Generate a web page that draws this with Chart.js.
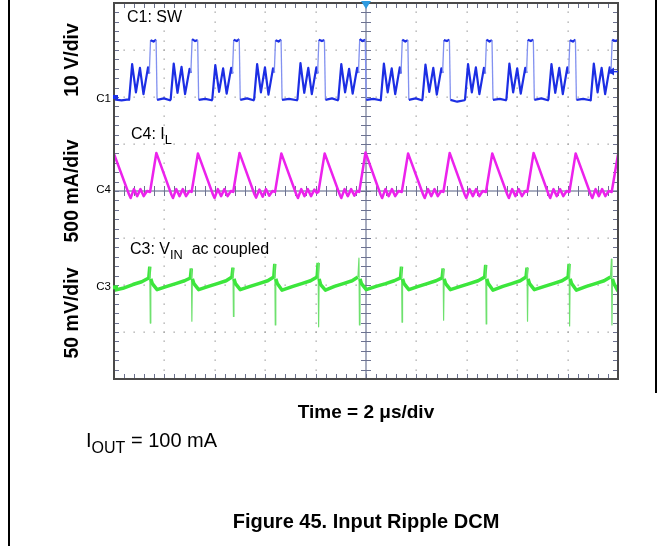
<!DOCTYPE html>
<html>
<head>
<meta charset="utf-8">
<script src="https://cdn.jsdelivr.net/npm/chart.js@4.4.1/dist/chart.umd.min.js"></script>
<style>
  body { margin: 0; background: #fff; font-family: "Liberation Sans", Arial, sans-serif; }
  #wrap { position: relative; width: 671px; height: 546px; overflow: hidden; }
  canvas { position: absolute; left: 0; top: 0; }
  .t { position: absolute; white-space: nowrap; color: #000; line-height: 1; }
  .ylab { font-weight: bold; font-size: 19.5px; transform: translate(-50%, -50%) rotate(-90deg); }
  .ch { font-size: 11.5px; text-align: right; width: 30px; }
  .lab { font-size: 16px; }
  sub { font-size: 0.8em; vertical-align: -0.4em; line-height: 0; }
  .rule { position: absolute; background: #000; width: 1.5px; }
</style>
</head>
<body>
<div id="wrap">
  <canvas id="canvas" width="671" height="546"></canvas>
  <div class="rule" style="left:8px; top:0; height:546px;"></div>
  <div class="rule" style="left:655px; top:0; height:393px;"></div>

  <div class="t ylab" style="left:72px; top:60px;">10 V/div</div>
  <div class="t ylab" style="left:72px; top:191px;">500 mA/div</div>
  <div class="t ylab" style="left:72px; top:313px;">50 mV/div</div>

  <div class="t ch" style="left:81px; top:93px;">C1</div>
  <div class="t ch" style="left:81px; top:184px;">C4</div>
  <div class="t ch" style="left:81px; top:281px;">C3</div>

  <div class="t lab" style="left:127px; top:9px;">C1: SW</div>
  <div class="t lab" style="left:131px; top:126px;">C4: I<sub>L</sub></div>
  <div class="t lab" style="left:130px; top:241px;">C3: V<sub>IN</sub>&nbsp; ac coupled</div>

  <div class="t" style="left:366px; top:402px; transform:translateX(-50%); font-weight:bold; font-size:19px;">Time = 2 &mu;s/div</div>
  <div class="t" style="left:86px; top:430px; font-size:20px;">I<sub>OUT</sub> = 100 mA</div>
  <div class="t" style="left:366px; top:511px; transform:translateX(-50%); font-weight:bold; font-size:20px;">Figure 45. Input Ripple DCM</div>
</div>
<script>
// time in us, SW in volts
const swTrace = [
  [0, -0.5], [0.3, -0.7], [0.58, -0.5],
  [0.60, -0.6], [0.72, 7.0], [0.87, 1.0], [1.03, 6.2], [1.17, 0.6], [1.35, 6.3], [1.40, 5.0], [1.45, 12.1], [1.57, 11.8], [1.67, 12.2], [1.71, -0.6], [1.98, -0.3], [2.22, -0.7],
  [2.25, -0.5], [2.37, 7.1], [2.52, 0.9], [2.68, 6.4], [2.82, 0.6], [3.00, 6.0], [3.05, 5.1], [3.10, 12.3], [3.22, 11.9], [3.32, 12.1], [3.36, -0.6], [3.62, -0.4], [3.88, -0.7],
  [3.90, -0.5], [4.02, 6.8], [4.17, 1.1], [4.33, 6.1], [4.47, 0.7], [4.65, 6.2], [4.70, 5.0], [4.75, 12.2], [4.87, 11.9], [4.97, 12.3], [5.01, -0.6], [5.28, -0.3], [5.54, -0.7],
  [5.56, -0.5], [5.68, 7.0], [5.83, 1.0], [5.99, 6.3], [6.13, 0.5], [6.31, 6.1], [6.36, 5.2], [6.41, 12.1], [6.53, 11.8], [6.63, 12.2], [6.67, -0.6], [6.95, -0.4], [7.26, -0.7],
  [7.28, -0.5], [7.40, 7.2], [7.55, 0.9], [7.71, 6.2], [7.85, 0.6], [8.03, 6.3], [8.08, 5.0], [8.13, 12.2], [8.25, 11.9], [8.35, 12.1], [8.39, -0.6], [8.65, -0.3], [8.88, -0.7],
  [8.90, -0.5], [9.02, 7.0], [9.17, 1.0], [9.33, 6.0], [9.47, 0.7], [9.65, 6.2], [9.70, 5.1], [9.75, 12.3], [9.87, 11.9], [9.97, 12.2], [10.01, -0.6], [10.30, -0.4], [10.57, -0.7],
  [10.59, -0.5], [10.71, 7.1], [10.86, 1.0], [11.02, 6.1], [11.16, 0.6], [11.34, 6.3], [11.39, 5.0], [11.44, 12.2], [11.56, 11.8], [11.66, 12.1], [11.70, -0.6], [11.97, -0.3], [12.22, -0.7],
  [12.24, -0.5], [12.36, 6.9], [12.51, 1.1], [12.67, 6.2], [12.81, 0.5], [12.99, 6.1], [13.04, 5.1], [13.09, 12.1], [13.21, 11.9], [13.31, 12.2], [13.35, -0.6], [13.62, -1.0], [13.91, -0.7],
  [13.93, -0.5], [14.05, 7.0], [14.20, 1.0], [14.36, 6.3], [14.50, 0.6], [14.68, 6.2], [14.73, 5.0], [14.78, 12.2], [14.90, 11.8], [15.00, 12.1], [15.04, -0.6], [15.31, -0.4], [15.55, -0.7],
  [15.57, -0.5], [15.69, 7.1], [15.84, 1.0], [16.00, 6.1], [16.14, 0.7], [16.32, 6.2], [16.37, 5.1], [16.42, 12.2], [16.54, 11.9], [16.64, 12.2], [16.68, -0.6], [16.96, -0.3], [17.22, -0.7],
  [17.24, -0.5], [17.36, 7.0], [17.51, 0.9], [17.67, 6.2], [17.81, 0.6], [17.99, 6.3], [18.04, 5.0], [18.09, 12.1], [18.21, 11.8], [18.31, 12.2], [18.35, -0.6], [18.62, -0.4], [18.90, -0.7],
  [18.92, -0.5], [19.04, 7.1], [19.19, 1.0], [19.35, 6.2], [19.49, 0.6], [19.67, 6.3], [19.72, 5.0], [19.77, 12.2], [19.89, 11.9], [20.0, 12.1]
];

// inductor current in mA
const ilTrace = [
  [0, 395], [0.60, -40], [0.66, -75], [0.79, 20], [0.92, -55], [1.05, 20], [1.18, -55], [1.31, 0], [1.43, -10], [1.68, 405],
  [2.28, -40], [2.34, -75], [2.47, 20], [2.60, -55], [2.73, 20], [2.86, -55], [2.99, 0], [3.08, -10], [3.33, 400],
  [3.93, -40], [3.99, -75], [4.12, 20], [4.25, -55], [4.38, 20], [4.51, -55], [4.64, 0], [4.73, -10], [4.98, 405],
  [5.58, -40], [5.64, -70], [5.77, 15], [5.90, -60], [6.03, 20], [6.16, -50], [6.29, 0], [6.39, -10], [6.64, 400],
  [7.24, -40], [7.30, -75], [7.43, 20], [7.56, -55], [7.69, 20], [7.82, -55], [7.95, 15], [8.05, -20], [8.11, -10], [8.36, 400],
  [8.96, -40], [9.02, -75], [9.15, 20], [9.28, -55], [9.41, 20], [9.54, -50], [9.65, 0], [9.73, -10], [9.98, 410],
  [10.58, -40], [10.64, -75], [10.77, 20], [10.90, -55], [11.03, 20], [11.16, -55], [11.29, 0], [11.42, -10], [11.67, 400],
  [12.27, -40], [12.33, -75], [12.46, 20], [12.59, -55], [12.72, 20], [12.85, -55], [12.98, 0], [13.07, -10], [13.32, 405],
  [13.92, -40], [13.98, -75], [14.11, 20], [14.24, -55], [14.37, 20], [14.50, -55], [14.63, 0], [14.76, -10], [15.01, 400],
  [15.61, -40], [15.67, -75], [15.80, 20], [15.93, -55], [16.06, 20], [16.19, -55], [16.32, 0], [16.40, -10], [16.65, 405],
  [17.25, -40], [17.31, -75], [17.44, 20], [17.57, -55], [17.70, 20], [17.83, -55], [17.96, 0], [18.07, -10], [18.32, 400],
  [18.92, -40], [18.98, -75], [19.11, 20], [19.24, -55], [19.37, 20], [19.50, -55], [19.63, 0], [19.75, -10], [20.0, 390]
];

// input ripple in mV (ac coupled)
const vinTrace = [
  [0, -3], [0.35, -1], [0.75, 3], [1.10, 6], [1.38, 10], [1.42, 22], [1.44, -38], [1.46, 9], [1.52, 4], [1.71, -2.5],
  [2.10, 1], [2.45, 4], [2.80, 7], [3.03, 10], [3.07, 20], [3.09, -36], [3.11, 9], [3.17, 4], [3.36, -2.5],
  [3.75, 1], [4.10, 4], [4.45, 7], [4.68, 11], [4.72, 21], [4.74, -31], [4.76, 9], [4.82, 4], [5.01, -2.5],
  [5.40, 1], [5.75, 4], [6.10, 7], [6.34, 11], [6.38, 25], [6.40, -40], [6.42, 9], [6.48, 4], [6.67, -3],
  [7.10, 1], [7.45, 4], [7.80, 7], [8.06, 11], [8.10, 26], [8.12, -42], [8.14, 9], [8.20, 3], [8.39, -3],
  [8.75, 1], [9.10, 4], [9.45, 7], [9.68, 11], [9.72, 31], [9.74, -40], [9.76, 9], [9.82, 4], [10.01, -2.5],
  [10.40, 1], [10.78, 4], [11.12, 7], [11.37, 10], [11.41, 22], [11.43, -37], [11.45, 9], [11.51, 4], [11.70, -2.5],
  [12.08, 1], [12.43, 4], [12.78, 7], [13.02, 10], [13.06, 20], [13.08, -35], [13.10, 9], [13.16, 4], [13.35, -2.5],
  [13.75, 1], [14.10, 4], [14.45, 7], [14.71, 11], [14.75, 24], [14.77, -39], [14.79, 9], [14.85, 4], [15.04, -3],
  [15.43, 1], [15.78, 4], [16.12, 7], [16.35, 11], [16.39, 21], [16.41, -36], [16.43, 9], [16.49, 4], [16.68, -2.5],
  [17.08, 1], [17.43, 4], [17.78, 7], [18.02, 11], [18.06, 25], [18.08, -41], [18.10, 9], [18.16, 4], [18.35, -3],
  [18.75, 1], [19.10, 4], [19.45, 7], [19.70, 11], [19.74, 30], [19.76, -40], [19.78, 9], [19.84, 4], [20.0, -4]
];

// scope settings: offset = ground level in divisions from the bottom
const usPerDiv = 2;
const swScale = 10, swOffset = 6;      // V/div
const ilScale = 500, ilOffset = 4;     // mA/div
const vinScale = 50, vinOffset = 1.95; // mV/div
const trigLevel = 5.4;                  // V on C1

const toDiv = (arr, off, sc) => arr.map(p => ({ x: p[0], y: off + p[1] / sc }));

// fast edges are drawn faint and thin, like on the scope screen
const steep = c => Math.abs(c.p1.y - c.p0.y) > 15 * Math.max(Math.abs(c.p1.x - c.p0.x), 0.1);

const scopeGrid = {
  id: 'scopeGrid',
  beforeDatasetsDraw(chart) {
    const { ctx, chartArea: a, scales: { x, y } } = chart;
    ctx.save();
    // dotted graticule
    ctx.fillStyle = '#a0a0a0';
    for (let i = 1; i < 10; i++) {
      if (i === 5) continue;
      const px = x.getPixelForValue(i * usPerDiv);
      for (let j = 1; j < 40; j++) {
        ctx.fillRect(Math.round(px) - 0.5, Math.round(y.getPixelForValue(j * 0.2)) - 0.5, 1.3, 1.3);
      }
    }
    for (let i = 1; i < 8; i++) {
      if (i === 4) continue;
      const py = y.getPixelForValue(i);
      for (let j = 1; j < 50; j++) {
        ctx.fillRect(Math.round(x.getPixelForValue(j * 0.2 * usPerDiv)) - 0.5, Math.round(py) - 0.5, 1.3, 1.3);
      }
    }
    // centre cross
    const cx = x.getPixelForValue(5 * usPerDiv), cy = y.getPixelForValue(4);
    ctx.strokeStyle = '#8c92aa';
    ctx.lineWidth = 1.5;
    ctx.beginPath();
    ctx.moveTo(cx, a.top); ctx.lineTo(cx, a.bottom);
    ctx.moveTo(a.left, cy); ctx.lineTo(a.right, cy);
    ctx.stroke();
    ctx.strokeStyle = '#6c7290';
    ctx.lineWidth = 1;
    ctx.beginPath();
    for (let j = 1; j < 50; j++) {
      const px = Math.round(x.getPixelForValue(j * 0.2 * usPerDiv)) + 0.5;
      ctx.moveTo(px, cy - 5); ctx.lineTo(px, cy + 5);
      ctx.moveTo(px, a.bottom); ctx.lineTo(px, a.bottom - 5);
      ctx.moveTo(px, a.top); ctx.lineTo(px, a.top + 5);
    }
    for (let j = 1; j < 40; j++) {
      const py = Math.round(y.getPixelForValue(j * 0.2)) + 0.5;
      ctx.moveTo(cx - 5, py); ctx.lineTo(cx + 5, py);
      ctx.moveTo(a.left, py); ctx.lineTo(a.left + 5, py);
      ctx.moveTo(a.right, py); ctx.lineTo(a.right - 5, py);
    }
    ctx.stroke();
    ctx.restore();
  },
  afterDatasetsDraw(chart) {
    const { ctx, chartArea: a, scales: { x, y } } = chart;
    ctx.save();
    ctx.strokeStyle = '#4a4a4a';
    ctx.lineWidth = 2;
    ctx.strokeRect(a.left, a.top, a.right - a.left, a.bottom - a.top);
    // trigger position marker
    const tx = x.getPixelForValue(5 * usPerDiv);
    ctx.fillStyle = '#2f9be0';
    ctx.beginPath();
    ctx.moveTo(tx - 5, a.top - 2); ctx.lineTo(tx + 5, a.top - 2); ctx.lineTo(tx, a.top + 6);
    ctx.closePath(); ctx.fill();
    // trigger level arrow
    const ty = y.getPixelForValue(swOffset + trigLevel / swScale);
    ctx.fillStyle = '#1e32e6';
    ctx.strokeStyle = '#1e32e6';
    ctx.lineWidth = 1.5;
    ctx.beginPath();
    ctx.moveTo(a.right - 10, ty); ctx.lineTo(a.right - 4, ty - 4); ctx.lineTo(a.right - 4, ty + 4);
    ctx.closePath(); ctx.fill();
    ctx.beginPath(); ctx.moveTo(a.right - 5, ty); ctx.lineTo(a.right, ty); ctx.stroke();
    // channel ground markers
    ctx.fillStyle = '#1e32e6';
    ctx.fillRect(a.left - 1, y.getPixelForValue(swOffset) - 2, 5, 4);
    ctx.fillStyle = '#3ce63c';
    ctx.fillRect(a.left - 1, y.getPixelForValue(vinOffset) - 2, 5, 4);
    ctx.restore();
  }
};

const ctx = document.getElementById('canvas').getContext('2d');
const chart = new Chart(ctx, {
  type: 'scatter',
  data: {
    datasets: [{
      label: 'C4: IL',
      data: toDiv(ilTrace, ilOffset, ilScale),
      borderColor: 'rgb(236,34,236)',
      borderWidth: 2.5
    }, {
      label: 'C3: VIN',
      data: toDiv(vinTrace, vinOffset, vinScale),
      borderColor: 'rgb(60,230,60)',
      borderWidth: 3.5,
      segment: {
        borderWidth: c => steep(c) ? 1.2 : 3.5,
        borderColor: c => steep(c) ? 'rgb(110,225,110)' : 'rgb(60,230,60)'
      }
    }, {
      label: 'C1: SW',
      data: toDiv(swTrace, swOffset, swScale),
      borderColor: 'rgb(28,46,228)',
      borderWidth: 2.2,
      segment: {
        borderWidth: c => steep(c) ? 1.3 : 2.2,
        borderColor: c => steep(c) ? 'rgb(130,145,240)' : 'rgb(28,46,228)'
      }
    }]
  },
  options: {
    responsive: false,
    animation: false,
    showLine: true,
    layout: { padding: { left: 114, right: 53, top: 3, bottom: 167 } },
    elements: { point: { radius: 0 }, line: { tension: 0, borderJoinStyle: 'round' } },
    plugins: { legend: { display: false }, tooltip: { enabled: false } },
    scales: {
      x: { type: 'linear', min: 0, max: 10 * usPerDiv, display: false },
      y: { type: 'linear', min: 0, max: 8, display: false }
    }
  },
  plugins: [scopeGrid]
});
</script>
</body>
</html>
